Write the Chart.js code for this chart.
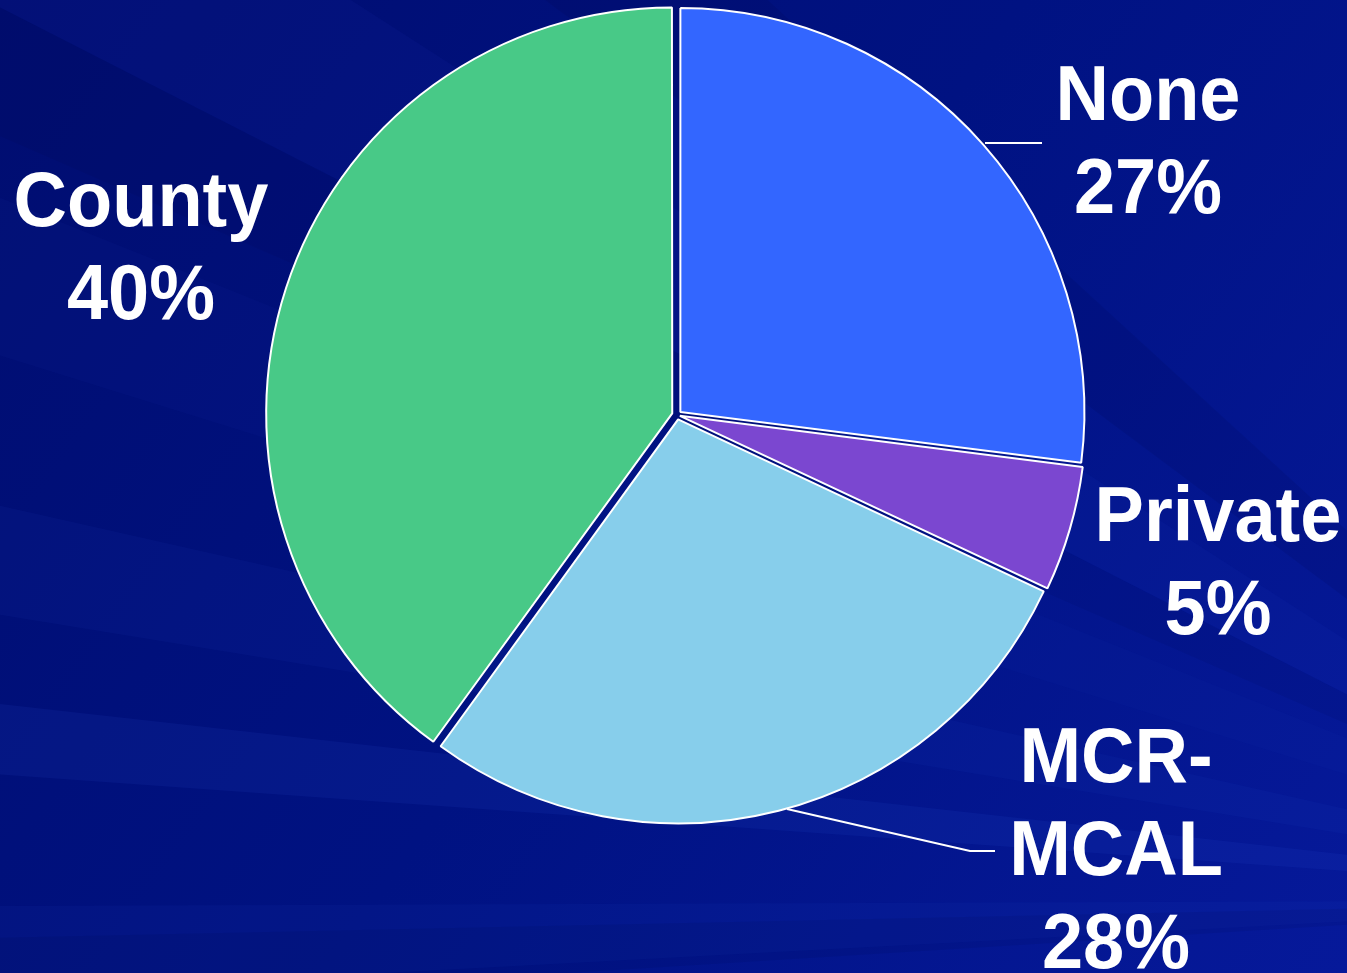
<!DOCTYPE html>
<html>
<head>
<meta charset="utf-8">
<script src="https://cdn.jsdelivr.net/npm/chart.js@4"></script>
<style>
  html,body{margin:0;padding:0;background:#00107c;}
  #wrap{position:relative;width:1347px;height:973px;}
  canvas{display:block;}
</style>
</head>
<body>
<div id="wrap"><canvas id="c" width="1347" height="973"></canvas></div>
<script>
const categories = ["None", "Private", "MCR-MCAL", "County"];
const labelLines = [["None", "27%"], ["Private", "5%"], ["MCR-", "MCAL", "28%"], ["County", "40%"]];
const values = [27, 5, 28, 40];
const colors = ["#3366FF", "#7B47D0", "#87CEEB", "#48C987"];
const offsets = [18, 12, 18, 20];

// label anchor positions (text centre x, first baseline y)
const labelPos = [[1148, 120], [1218, 541], [1116, 782], [141, 226]];
const leaderLines = [
  [[985, 143], [1042, 143]],
  null,
  [[787, 809], [970, 851], [995, 851]],
  null
];

const bgPlugin = {
  id: 'bg',
  beforeDraw(chart) {
    const ctx = chart.ctx, w = chart.width, h = chart.height;
    ctx.save();
    const g = ctx.createLinearGradient(0, 0, w, h);
    g.addColorStop(0, '#000d70');
    g.addColorStop(0.5, '#001282');
    g.addColorStop(1, '#06199a');
    ctx.fillStyle = g;
    ctx.fillRect(0, 0, w, h);
    const fx = 1750, fy = 900;
    const rays = [
      [-2.62, 0.05, 'rgba(40,70,200,0.08)'],
      [-2.80, 0.04, 'rgba(30,60,190,0.07)'],
      [-2.95, 0.03, 'rgba(40,80,210,0.07)'],
      [-3.05, 0.02, 'rgba(60,100,230,0.09)'],
      [-3.17, 0.025, 'rgba(40,80,210,0.07)'],
      [-2.45, 0.05, 'rgba(0,0,60,0.10)'],
      [-2.70, 0.03, 'rgba(0,0,60,0.07)'],
      [3.10, 0.02, 'rgba(0,0,50,0.08)']
    ];
    rays.forEach(([a, wdt, col]) => {
      ctx.beginPath();
      ctx.moveTo(fx, fy);
      ctx.lineTo(fx + 3000 * Math.cos(a - wdt), fy + 3000 * Math.sin(a - wdt));
      ctx.lineTo(fx + 3000 * Math.cos(a + wdt), fy + 3000 * Math.sin(a + wdt));
      ctx.closePath();
      ctx.fillStyle = col;
      ctx.fill();
    });
    ctx.restore();
  }
};

const labelPlugin = {
  id: 'pieLabels',
  afterDraw(chart) {
    const ctx = chart.ctx;
    ctx.save();
    ctx.strokeStyle = '#ffffff';
    ctx.lineWidth = 2;
    leaderLines.forEach(pts => {
      if (!pts) return;
      ctx.beginPath();
      ctx.moveTo(pts[0][0], pts[0][1]);
      for (let i = 1; i < pts.length; i++) ctx.lineTo(pts[i][0], pts[i][1]);
      ctx.stroke();
    });
    ctx.fillStyle = '#ffffff';
    ctx.textAlign = 'center';
    ctx.textBaseline = 'alphabetic';
    ctx.font = 'bold 74px "Liberation Sans", Arial, sans-serif';
    labelLines.forEach((lines, i) => {
      const [x, y] = labelPos[i];
      lines.forEach((t, j) => {
        const by = y + j * 93;
        ctx.save();
        ctx.translate(x, by);
        ctx.scale(1, 1.04);
        ctx.fillText(t, 0, 0);
        ctx.restore();
      });
    });
    ctx.restore();
  }
};

new Chart(document.getElementById('c'), {
  type: 'pie',
  data: {
    labels: categories,
    datasets: [{
      data: values,
      backgroundColor: colors,
      borderColor: '#ffffff',
      borderWidth: 2,
      offset: offsets,
      radius: 404
    }]
  },
  options: {
    responsive: false,
    animation: false,
    layout: { padding: { left: 100, right: 93, top: 0, bottom: 143 } },
    plugins: { legend: { display: false }, tooltip: { enabled: false } }
  },
  plugins: [bgPlugin, labelPlugin]
});
</script>
</body>
</html>
